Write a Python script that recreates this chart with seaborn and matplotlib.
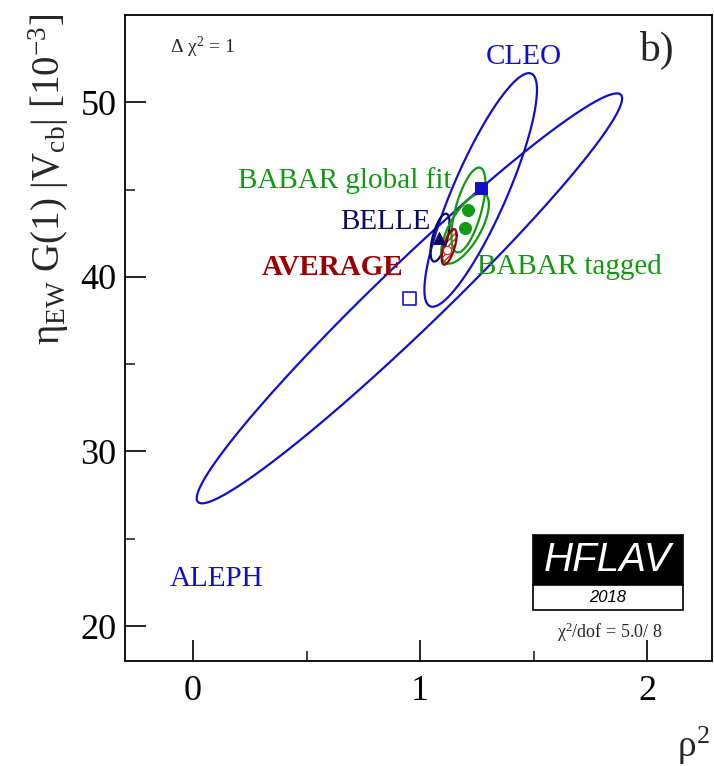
import numpy as np
import pandas as pd
import matplotlib
matplotlib.use('Agg')
import matplotlib.pyplot as plt
import seaborn as sns
from matplotlib.patches import Rectangle

# measurements: centre, sigma and correlation of each Delta chi2 = 1 ellipse
names = ['ALEPH', 'CLEO', 'BELLE', 'BABAR global fit', 'BABAR tagged', 'AVERAGE']
rho2 = [0.953, 1.267, 1.088, 1.213, 1.198, 1.128]
vcb = [38.77, 44.98, 42.25, 43.83, 42.78, 41.72]
sig_rho2 = [0.937, 0.248, 0.042, 0.075, 0.105, 0.033]
sig_vcb = [11.74, 6.69, 1.37, 2.43, 2.02, 1.02]
corr = [0.975, 0.855, 0.60, 0.62, 0.68, 0.65]
colors = ['#1010cc', '#1010cc', '#0a0a66', '#119911', '#119911', '#990000']

# marker positions (centre markers as drawn)
mark_x = [0.953, 1.269, 1.085, 1.213, 1.198, 1.120]
mark_y = [38.77, 45.09, 42.20, 43.83, 42.78, 41.55]

x_ticks = [0, 1, 2]
y_ticks = [20, 30, 40, 50]

sns.set_theme(style='ticks')
plt.rcParams['font.family'] = ['Liberation Serif', 'DejaVu Serif']
plt.rcParams['mathtext.fontset'] = 'custom'
plt.rcParams['mathtext.rm'] = 'Liberation Serif'
plt.rcParams['mathtext.it'] = 'Liberation Serif:italic'


def ellipse(cx, cy, sx, sy, r, n=400):
    t = np.linspace(0, 2 * np.pi, n)
    x = cx + sx * np.cos(t)
    y = cy + sy * (r * np.cos(t) + np.sqrt(1 - r ** 2) * np.sin(t))
    return pd.DataFrame({'x': x, 'y': y})


fig = plt.figure(figsize=(7.14, 7.66), dpi=100)
ax = fig.add_axes([125 / 714, 1 - 661 / 766, (712 - 125) / 714, (661 - 15) / 766])

# average: hatched filled ellipse
avg = ellipse(rho2[5], vcb[5], sig_rho2[5], sig_vcb[5], corr[5])
ax.fill(avg['x'], avg['y'], facecolor='white', edgecolor='#cc2222', hatch='//////', lw=0, zorder=2)

for i in range(len(names)):
    df = ellipse(rho2[i], vcb[i], sig_rho2[i], sig_vcb[i], corr[i])
    sns.lineplot(data=df, x='x', y='y', sort=False, estimator=None, color=colors[i],
                 lw=1.6, ax=ax, zorder=3)

# markers
sns.scatterplot(x=[mark_x[0]], y=[mark_y[0]], marker='s', s=80, facecolor='none',
                edgecolor=colors[0], linewidth=1.2, ax=ax, zorder=4)
sns.scatterplot(x=[mark_x[1]], y=[mark_y[1]], marker='s', s=75, color=colors[1],
                edgecolor=colors[1], ax=ax, zorder=4)
sns.scatterplot(x=[mark_x[2]], y=[mark_y[2]], marker='^', s=75, color=colors[2],
                edgecolor=colors[2], ax=ax, zorder=4)
sns.scatterplot(x=mark_x[3:5], y=mark_y[3:5], marker='o', s=75, color=colors[3],
                edgecolor=colors[3], ax=ax, zorder=4)
sns.scatterplot(x=[mark_x[5]], y=[mark_y[5]], marker='o', s=35, color='white',
                edgecolor='#cc2222', linewidth=0.8, ax=ax, zorder=4)

# labels
ax.text(1.458, 52.57, 'CLEO', color=colors[1], fontsize=21, ha='center', va='center')
ax.text(0.198, 45.54, 'BABAR global fit', color=colors[3], fontsize=21, ha='left', va='center')
ax.text(0.648, 43.14, 'BELLE', color=colors[2], fontsize=21, ha='left', va='center')
ax.text(0.304, 40.51, 'AVERAGE', color=colors[5], fontsize=21, fontweight='bold',
        ha='left', va='center')
ax.text(1.251, 40.57, 'BABAR tagged', color=colors[4], fontsize=21, ha='left', va='center')
ax.text(-0.101, 22.69, 'ALEPH', color=colors[0], fontsize=21, ha='left', va='center')

ax.set_xlim(-0.3, 2.286)
ax.set_ylim(18, 55)
ax.set_xticks(x_ticks)
ax.set_yticks(y_ticks)
ax.set_xticks([0.5, 1.5], minor=True)
ax.set_yticks([25, 35, 45], minor=True)
ax.tick_params(axis='both', which='major', direction='in', length=15, width=1.2,
               labelsize=26, colors='black')
ax.tick_params(axis='both', which='minor', direction='in', length=7, width=1.2)
ax.tick_params(axis='x', pad=10)
ax.tick_params(axis='y', pad=6)
for s in ax.spines.values():
    s.set_linewidth(1.3)
    s.set_color('black')
ax.set_xlabel('')
ax.set_ylabel('')

# annotations
fig.text(170 / 714, 1 - 47 / 766, 'Δ χ$^{2}$ = 1', fontsize=14, ha='left', va='center')
fig.text(656 / 714, 1 - 50 / 766, 'b)', fontsize=30, ha='center', va='center')
fig.text(610 / 714, 1 - 632 / 766, 'χ$^{2}$/dof = 5.0/ 8', fontsize=13, ha='center', va='center')

fig.text(0.068, 0.982, 'η$_{\\rm EW}$ G(1) |V$_{\\rm cb}$| [10$^{-3}$]', fontsize=28,
         rotation=90, ha='center', va='top')
fig.text(693 / 714, 1 - 746 / 766, 'ρ$^{2}$', fontsize=27, ha='center', va='center')

# HFLAV logo
x0, w = 533 / 714, 150 / 714
fig.patches.append(Rectangle((x0, 1 - 585 / 766), w, 50 / 766, transform=fig.transFigure,
                             facecolor='black', edgecolor='black', lw=1.2))
fig.patches.append(Rectangle((x0, 1 - 610 / 766), w, 25 / 766, transform=fig.transFigure,
                             facecolor='white', edgecolor='black', lw=1.2))
fig.text(x0 + w / 2, 1 - 560 / 766, 'HFLAV', color='white', fontsize=29, style='italic',
         family='Liberation Sans', ha='center', va='center')
fig.text(x0 + w / 2, 1 - 598 / 766, '2018', color='black', fontsize=12, style='italic',
         family='Liberation Sans', ha='center', va='center')

fig.savefig('out.png', dpi=100, facecolor='white')
